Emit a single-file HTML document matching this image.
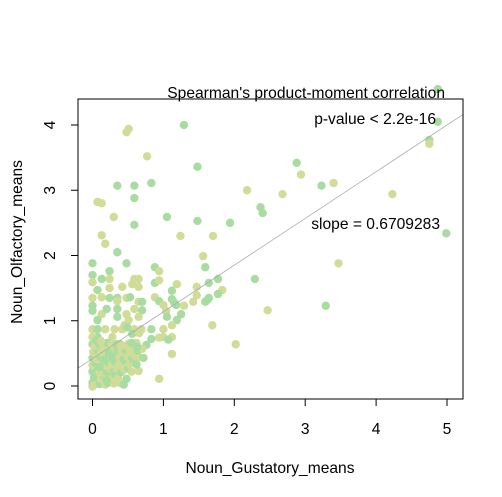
<!DOCTYPE html>
<html><head><meta charset="utf-8"><style>
body{margin:0;background:#fff}
svg{display:block;font-family:"Liberation Sans",Arial,sans-serif}
</style></head><body>
<svg id="chart" width="502" height="497" xmlns="http://www.w3.org/2000/svg">
<rect x="0" y="0" width="502" height="497" fill="#fff"/>
<g id="points"></g>
<g id="axes"></g>
<rect x="78" y="99" width="385" height="300" fill="none" stroke="#000" stroke-width="1"/>
<text x="445" y="98" font-size="15.6" text-anchor="end">Spearman's product-moment correlation</text>
<text x="436" y="124" font-size="15.6" text-anchor="end">p-value &lt; 2.2e-16</text>
<text x="440" y="229" font-size="15.6" text-anchor="end">slope = 0.6709283</text>
<text x="270" y="473" font-size="15.6" text-anchor="middle">Noun_Gustatory_means</text>
<text transform="translate(22,242) rotate(-90)" font-size="15.6" text-anchor="middle">Noun_Olfactory_means</text>
</svg>
<script>
const xTicks=[0,1,2,3,4,5];
const yTicks=[0,1,2,3,4];
const lineIntercept=0.42;
const lineSlope=0.716;
// G = green, Y = yellow
const ptX=[4.87,4.87,4.75,4.75,0.51,0.48,1.29,0.77,1.48,2.88,2.94,0.35,0.59,0.83,0.59,3.23,3.40,2.18,2.68,4.23,0.07,0.13,2.37,2.40,0.30,0.59,1.05,1.48,1.94,0.13,1.24,1.70,4.99,
0.18,0.35,1.56,1.59,0.0,0.48,0.88,0.94,0.0,0.24,0.0,0.13,0.24,0.59,0.65,0.56,0.88,0.94,1.19,1.64,1.77,0.07,0.24,0.42,0.65,1.12,1.47,1.83,
0.0,0.13,0.24,0.35,0.48,0.53,0.88,1.12,1.15,1.18,1.47,1.42,1.63,1.60,0.65,0.70,0.0,0.35,0.94,1.0,0.0,0.13,0.20,0.35,0.48,0.59,0.70,1.04,1.05,1.29,1.25,1.19,1.12,
0.35,0.07,0.51,0.65,1.69,0.0,0.07,0.18,0.31,0.42,0.45,0.49,0.59,0.69,0.83,1.0,0.07,0.28,0.56,0.66,0.83,0.94,1.0,1.12,1.07,2.02,0.0,0.18,0.39,0.51,0.62,0.76,1.12,0.65,0.94,0.38,0.48,0.44,
1.77,1.64,1.59,2.29,2.47,3.47,3.29,0.0,
0.0,0.03,0.06,0.1,0.14,0.18,0.22,0.26,0.3,0.02,0.08,0.12,0.16,0.2,0.24,0.28,0.32,0.36,0.0,0.05,0.1,0.15,0.2,0.25,0.3,0.35,0.4,0.45,0.5,0.55,
0.0,0.04,0.09,0.13,0.18,0.23,0.27,0.32,0.37,0.42,0.47,0.52,0.57,0.62,0.0,0.06,0.11,0.17,0.22,0.28,0.33,0.38,0.44,0.5,0.56,0.6,0.66,0.72,
0.01,0.07,0.12,0.19,0.25,0.31,0.36,0.41,0.46,0.53,0.58,0.64,0.7,0.03,0.09,0.15,0.21,0.27,0.34,0.4,0.48,0.55,0.63,0.0,0.05,0.12,0.2,0.1,0.16,0.23];
const ptY=[4.55,4.05,3.77,3.71,3.94,3.89,4.0,3.52,3.36,3.42,3.24,3.07,3.07,3.11,2.88,3.07,3.11,3.0,2.94,2.94,2.82,2.80,2.74,2.65,2.59,2.47,2.59,2.53,2.50,2.31,2.30,2.30,2.34,
2.18,2.05,1.99,1.82,1.88,1.88,1.82,1.76,1.70,1.76,1.59,1.64,1.64,1.64,1.64,1.56,1.58,1.62,1.56,1.58,1.64,1.47,1.50,1.52,1.52,1.46,1.52,1.47,
1.35,1.36,1.35,1.35,1.35,1.36,1.36,1.33,1.28,1.24,1.39,1.29,1.33,1.30,1.29,1.29,1.23,1.30,1.30,1.24,1.15,1.10,1.18,1.18,1.10,1.18,1.16,1.15,1.06,1.23,1.10,1.01,0.93,
1.06,1.01,1.01,1.06,0.93,0.87,0.87,0.87,0.87,0.87,0.93,0.90,0.87,0.87,0.87,0.87,0.75,0.75,0.80,0.81,0.72,0.74,0.75,0.75,0.71,0.64,0.64,0.64,0.64,0.65,0.66,0.63,0.49,0.23,0.11,0.05,0.11,0.02,
1.41,1.35,1.29,1.64,1.16,1.88,1.23,-0.01,
0.05,0.02,0.06,0.03,0.07,0.02,0.05,0.09,0.04,0.13,0.15,0.11,0.16,0.12,0.17,0.14,0.18,0.12,0.22,0.24,0.2,0.25,0.22,0.27,0.23,0.26,0.21,0.25,0.28,0.22,
0.32,0.35,0.3,0.34,0.31,0.36,0.33,0.37,0.32,0.35,0.38,0.34,0.36,0.33,0.43,0.41,0.45,0.42,0.46,0.43,0.47,0.44,0.41,0.45,0.42,0.46,0.44,0.43,
0.52,0.55,0.51,0.56,0.53,0.57,0.54,0.52,0.56,0.55,0.51,0.54,0.57,0.62,0.65,0.61,0.66,0.63,0.64,0.61,0.62,0.66,0.6,0.75,0.7,0.69,0.08,0.29,0.4,0.5];
const ptC="GGGYYYGYGGYGGGGGYYYYYYGGYGGGGYYYG"+"YGYGGGGYGGYGYYYYGYYGGGYYYGYY"+"YYGGYGYGGGYYGGYGGYGYGYGGYYGYGYG"+"GYGGYYYYGYYYYGYYGYGYGYGYYYGYGYGYYGYYYY"+"GGGGGGYY"+"GYGYYGGYGYYGGYGYGYGYGGYYGYGYGY"+"GYYGGYYGYGYYGYYGGYGYYGGYGYGY"+"YGYGYYGYGYGYYGYYGYGYGYYGGYGY";
const colors={G:"#a9dca1",Y:"#d0dc98"};
const NS="http://www.w3.org/2000/svg";
const X0=92.5,XS=70.9,Y0=386,YS=65.25;
function sx(v){return X0+XS*v;}
function sy(v){return Y0-YS*v;}
const pts=document.getElementById('points');
const n=Math.min(ptX.length,ptY.length);
for(let i=0;i<n;i++){
  const c=document.createElementNS(NS,'circle');
  c.setAttribute('cx',sx(ptX[i]));c.setAttribute('cy',sy(ptY[i]));c.setAttribute('r',4.2);
  c.setAttribute('fill',colors[ptC[i]]||colors.G);
  
  
  pts.appendChild(c);
}
const xa=(78-X0)/XS,xb=(463-X0)/XS;
const ln=document.createElementNS(NS,'line');
ln.setAttribute('x1',78);ln.setAttribute('y1',sy(lineIntercept+lineSlope*xa));
ln.setAttribute('x2',463);ln.setAttribute('y2',sy(lineIntercept+lineSlope*xb));
ln.setAttribute('stroke','#aaa');ln.setAttribute('stroke-width','0.8');


pts.appendChild(ln);
const ax=document.getElementById('axes');
const xl=document.createElementNS(NS,'line');
xl.setAttribute('x1',sx(0));xl.setAttribute('x2',sx(5));xl.setAttribute('y1',399);xl.setAttribute('y2',399);xl.setAttribute('stroke','#000');


ax.appendChild(xl);
xTicks.forEach(t=>{
  const l=document.createElementNS(NS,'line');
  l.setAttribute('x1',sx(t));l.setAttribute('x2',sx(t));l.setAttribute('y1',399);l.setAttribute('y2',406);l.setAttribute('stroke','#000');
  
  
  ax.appendChild(l);
  const tx=document.createElementNS(NS,'text');
  tx.setAttribute('x',sx(t));tx.setAttribute('y',434);tx.setAttribute('font-size','15.6');tx.setAttribute('text-anchor','middle');
  tx.textContent=t;
  
  
  ax.appendChild(tx);
});
const yl=document.createElementNS(NS,'line');
yl.setAttribute('x1',78);yl.setAttribute('x2',78);yl.setAttribute('y1',sy(0));yl.setAttribute('y2',sy(4));yl.setAttribute('stroke','#000');


ax.appendChild(yl);
yTicks.forEach(t=>{
  const l=document.createElementNS(NS,'line');
  l.setAttribute('x1',71);l.setAttribute('x2',78);l.setAttribute('y1',sy(t));l.setAttribute('y2',sy(t));l.setAttribute('stroke','#000');
  
  
  ax.appendChild(l);
  const tx=document.createElementNS(NS,'text');
  tx.setAttribute('transform','translate(55,'+sy(t)+') rotate(-90)');
  tx.setAttribute('font-size','15.6');tx.setAttribute('text-anchor','middle');
  tx.textContent=t;
  
  
  ax.appendChild(tx);
});
</script>
</body></html>
